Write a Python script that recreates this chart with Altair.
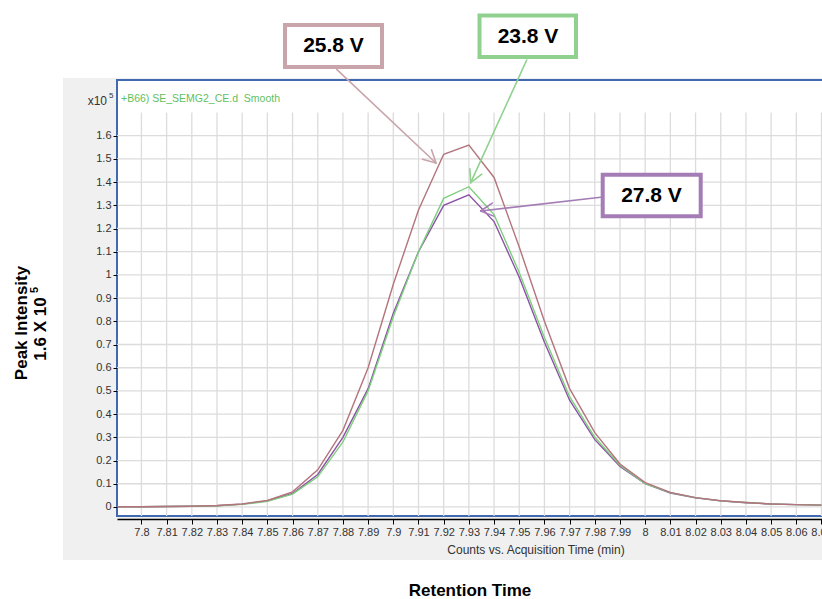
import altair as alt
import pandas as pd
import numpy as np

# ---------------- data ----------------
time_min = [7.79, 7.80, 7.81, 7.82, 7.83, 7.84, 7.85, 7.86, 7.87, 7.88, 7.89, 7.90,
            7.91, 7.92, 7.93, 7.94, 7.95, 7.96, 7.97, 7.98, 7.99, 8.00, 8.01, 8.02,
            8.03, 8.04, 8.05, 8.06, 8.07]
v_25_8 = [0.001, 0.001, 0.002, 0.003, 0.006, 0.013, 0.028, 0.065, 0.16, 0.33, 0.60, 0.96,
          1.28, 1.52, 1.56, 1.42, 1.12, 0.80, 0.51, 0.32, 0.185, 0.105, 0.063, 0.040,
          0.027, 0.019, 0.013, 0.010, 0.008]
v_23_8 = [0.001, 0.001, 0.002, 0.003, 0.005, 0.011, 0.024, 0.055, 0.13, 0.28, 0.50, 0.82,
          1.10, 1.33, 1.38, 1.26, 1.01, 0.73, 0.475, 0.30, 0.18, 0.100, 0.062, 0.040,
          0.026, 0.019, 0.013, 0.010, 0.008]
v_27_8 = [0.001, 0.001, 0.002, 0.003, 0.005, 0.012, 0.026, 0.058, 0.14, 0.30, 0.51, 0.835,
          1.10, 1.30, 1.345, 1.23, 0.99, 0.71, 0.46, 0.29, 0.175, 0.100, 0.060, 0.039,
          0.026, 0.018, 0.013, 0.010, 0.008]

x_ticks = [7.80, 7.81, 7.82, 7.83, 7.84, 7.85, 7.86, 7.87, 7.88, 7.89, 7.90, 7.91, 7.92,
           7.93, 7.94, 7.95, 7.96, 7.97, 7.98, 7.99, 8.00, 8.01, 8.02, 8.03, 8.04, 8.05,
           8.06, 8.07]
y_ticks = [0, 0.1, 0.2, 0.3, 0.4, 0.5, 0.6, 0.7, 0.8, 0.9, 1.0, 1.1, 1.2, 1.3, 1.4, 1.5, 1.6]

series_names = ["27.8 V", "23.8 V", "25.8 V"]
series_values = [v_27_8, v_23_8, v_25_8]
line_colors = ["#8c52a6", "#7dcf7d", "#b3747d"]
box_colors = ["#a47db6", "#90d190", "#c9a4ab"]

# ---------------- layout ----------------
PAD_L, PAD_T = 117, 80
W, H = 705, 436
FONT = "Liberation Sans, Arial, sans-serif"
GRID = "#dcdcdc"
BLUE = "#4169b0"

xscale = alt.Scale(domain=[7.7903, 8.0702], nice=False, zero=False)
yscale = alt.Scale(domain=[-0.039, 1.84], nice=False, zero=False)

xaxis = alt.Axis(values=x_ticks, format="~g", grid=False, domainColor="black",
                 domainWidth=1.5, tickColor="black", tickSize=5, tickWidth=1,
                 labelFontSize=11, labelColor="#333333", labelFont=FONT,
                 labelPadding=2, labelFlush=False, labelOverlap=False, offset=3,
                 title=None, zindex=1)
yaxis = alt.Axis(values=y_ticks, format="~g", grid=False, domain=False,
                 tickColor="black", tickSize=4, tickWidth=1, labelFontSize=11,
                 labelColor="#333333", labelFont=FONT, labelPadding=2,
                 labelOverlap=False, labelFlush=False, title=None, zindex=1)

def px(v, off):
    return v - off

# background panels (pixel geometry)
panels = pd.DataFrame({
    "x1": [63 - PAD_L, 0], "x2": [W + 5, W + 6],
    "y1": [78 - PAD_T, 0], "y2": [560 - PAD_T, H],
})
gray = alt.Chart(panels.iloc[[0]]).mark_rect(fill="#f0f0f0", strokeWidth=0).encode(
    x=alt.X("x1:Q", scale=None), x2="x2:Q",
    y=alt.Y("y1:Q", scale=None), y2="y2:Q")
white = alt.Chart(panels.iloc[[1]]).mark_rect(fill="#ffffff", stroke=BLUE, strokeWidth=2).encode(
    x=alt.X("x1:Q", scale=None), x2="x2:Q",
    y=alt.Y("y1:Q", scale=None), y2="y2:Q")

hgrid = alt.Chart(pd.DataFrame({"v": y_ticks})).mark_rule(color=GRID, strokeWidth=1.3).encode(
    y=alt.Y("v:Q", scale=yscale, axis=yaxis),
    x=alt.value(0), x2=alt.value(W + 5))
vgrid = alt.Chart(pd.DataFrame({"t": x_ticks})).mark_rule(color=GRID, strokeWidth=1.3).encode(
    x=alt.X("t:Q", scale=xscale, axis=xaxis),
    y=alt.YDatum(1.7, axis=yaxis, scale=yscale), y2=alt.Y2Datum(-0.039))

line_layers = []
for name, vals, col in zip(series_names, series_values, line_colors):
    df = pd.DataFrame({"t": time_min, "v": vals, "series": name})
    line_layers.append(
        alt.Chart(df).mark_line(color=col, strokeWidth=1.4, clip=True).encode(
            x=alt.X("t:Q", scale=xscale, axis=xaxis),
            y=alt.Y("v:Q", scale=yscale, axis=yaxis))
    )

# ---------------- annotations ----------------
box_labels = ["27.8 V", "23.8 V", "25.8 V"]
box_x1 = [602.7, 479.5, 285.0]
box_x2 = [700.7, 576.0, 382.0]
box_y1 = [174.7, 15.5, 25.0]
box_y2 = [216.3, 57.0, 67.0]
label_x = [651.5, 528.0, 333.5]
label_y = [195.5, 36.5, 46.0]
arrow_from = [(600.7, 197.3), (526.7, 60.0), (336.7, 69.3)]
arrow_to = [(480.7, 211.0), (470.7, 182.7), (436.0, 163.0)]

boxes = pd.DataFrame({
    "x1": [px(v, PAD_L) for v in box_x1], "x2": [px(v, PAD_L) for v in box_x2],
    "y1": [px(v, PAD_T) for v in box_y1], "y2": [px(v, PAD_T) for v in box_y2],
    "c": box_colors,
})
box_layer = alt.Chart(boxes).mark_rect(fill="white", strokeWidth=4).encode(
    x=alt.X("x1:Q", scale=None), x2="x2:Q",
    y=alt.Y("y1:Q", scale=None), y2="y2:Q",
    stroke=alt.Stroke("c:N", scale=None))
box_text = alt.Chart(pd.DataFrame({
    "x": [px(v, PAD_L) for v in label_x], "y": [px(v, PAD_T) for v in label_y],
    "s": box_labels})).mark_text(font=FONT, fontSize=21, fontWeight="bold",
                                  color="black", align="center", baseline="middle").encode(
    x=alt.X("x:Q", scale=None), y=alt.Y("y:Q", scale=None), text="s:N")

segs = []
for (sx, sy), (tx, ty), col in zip(arrow_from, arrow_to, box_colors):
    segs.append((sx, sy, tx, ty, col))
    d = np.array([tx - sx, ty - sy]); d = d / np.linalg.norm(d)
    for ang in (np.radians(28), -np.radians(28)):
        r = np.array([[np.cos(ang), -np.sin(ang)], [np.sin(ang), np.cos(ang)]])
        back = r @ (-d) * 14
        segs.append((tx, ty, tx + back[0], ty + back[1], col))
arrows = pd.DataFrame(segs, columns=["ax", "ay", "bx", "by", "c"])
arrows[["ax", "bx"]] -= PAD_L
arrows[["ay", "by"]] -= PAD_T
arrow_layer = alt.Chart(arrows).mark_rule(strokeWidth=1.6, strokeCap="round").encode(
    x=alt.X("ax:Q", scale=None), y=alt.Y("ay:Q", scale=None),
    x2="bx:Q", y2="by:Q", color=alt.Color("c:N", scale=None))

texts = pd.DataFrame([
    # x, y, text, size, weight, color, align, angle
    (107, 101, "x10", 12, "normal", "#333333", "right", 0),
    (109, 96, "5", 8, "normal", "#333333", "left", 0),
    (121, 99, "+B66) SE_SEMG2_CE.d\u00a0\u00a0Smooth", 10.5, "normal", "#5fbf5f", "left", 0),
    (536, 550, "Counts vs. Acquisition Time (min)", 12, "normal", "#333333", "center", 0),
    (470, 591, "Retention Time", 17, "bold", "black", "center", 0),
    (22, 323, "Peak Intensity", 17, "bold", "black", "center", 270),
    (41, 329, "1.6 X 10", 17, "bold", "black", "center", 270),
    (35, 290, "5", 11, "bold", "black", "center", 270),
], columns=["x", "y", "s", "size", "w", "c", "al", "ang"])
texts["x"] -= PAD_L
texts["y"] -= PAD_T

text_layers = []
for _, r in texts.iterrows():
    text_layers.append(
        alt.Chart(pd.DataFrame([r])).mark_text(
            font=FONT, fontSize=float(r["size"]), fontWeight=r["w"], color=r["c"],
            align=r["al"], baseline="middle", angle=float(r["ang"])).encode(
            x=alt.X("x:Q", scale=None), y=alt.Y("y:Q", scale=None), text="s:N")
    )

chart = alt.layer(
    gray, white, hgrid, vgrid, *line_layers, arrow_layer, box_layer, box_text, *text_layers
).properties(
    width=W, height=H,
    padding={"left": PAD_L, "top": PAD_T, "right": 0, "bottom": 599 - PAD_T - H},
    autosize=alt.AutoSizeParams(type="none"),
    background="white",
).configure_view(stroke=None, fill=None)

chart.save("out.html", embed_options={"renderer": "svg", "actions": False})
